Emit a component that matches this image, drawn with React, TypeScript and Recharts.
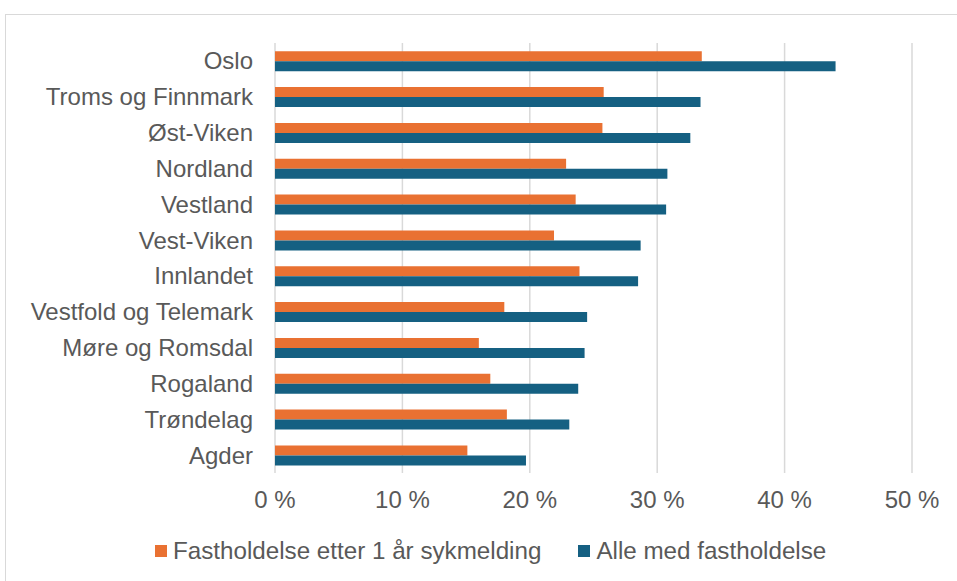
import React from 'react';
import { BarChart, Bar, XAxis, YAxis, CartesianGrid } from 'recharts';

// regions, top to bottom
const regions = [
  'Oslo',
  'Troms og Finnmark',
  'Øst-Viken',
  'Nordland',
  'Vestland',
  'Vest-Viken',
  'Innlandet',
  'Vestfold og Telemark',
  'Møre og Romsdal',
  'Rogaland',
  'Trøndelag',
  'Agder',
];

// percent values
const etterSykmelding = [33.5, 25.8, 25.7, 22.85, 23.6, 21.9, 23.9, 18.0, 16.0, 16.9, 18.2, 15.1];
const alleFastholdelse = [44.0, 33.4, 32.6, 30.8, 30.7, 28.7, 28.5, 24.5, 24.3, 23.8, 23.1, 19.7];

const xTicks = [0, 10, 20, 30, 40, 50];

const seriesNames = ['Fastholdelse etter 1 år sykmelding', 'Alle med fastholdelse'];
const seriesColors = ['#E97132', '#156082'];

const data = regions.map((region, i) => ({
  region,
  etter: etterSykmelding[i],
  alle: alleFastholdelse[i],
}));

const textColor = '#595959';
const font = '"Liberation Sans", Arial, sans-serif';

// legend sits under the chart, drawn as plain html
function ChartLegend() {
  return (
    <div
      style={{
        position: 'absolute',
        left: 155,
        top: 537,
        display: 'flex',
        gap: 37,
        fontFamily: font,
        fontSize: 24.2,
        lineHeight: '28px',
        color: textColor,
        whiteSpace: 'nowrap',
      }}
    >
      {seriesNames.map((name, i) => (
        <div key={name} style={{ display: 'flex', alignItems: 'center' }}>
          <span
            style={{
              display: 'inline-block',
              width: 12,
              height: 12,
              background: seriesColors[i],
              marginRight: 6,
            }}
          />
          <span>{name}</span>
        </div>
      ))}
    </div>
  );
}

export default function App() {
  return (
    <div
      style={{
        position: 'absolute',
        left: 0,
        top: 0,
        width: 957,
        height: 581,
        background: '#fff',
        overflow: 'hidden',
      }}
    >
      {/* chart frame */}
      <div
        style={{
          position: 'absolute',
          left: 5,
          top: 14,
          width: 960,
          height: 580,
          border: '1px solid #d9d9d9',
        }}
      />
      <div style={{ position: 'absolute', left: 0, top: 0 }}>
        <BarChart
          width={957}
          height={581}
          data={data}
          layout="vertical"
          margin={{ top: 43, right: 45, bottom: 78, left: 0 }}
          barCategoryGap="23%"
          barGap={0}
        >
          <CartesianGrid horizontal={false} stroke="#d9d9d9" strokeWidth={1.5} />
          <XAxis
            type="number"
            domain={[0, 50]}
            ticks={xTicks}
            tickFormatter={(v) => `${v} %`}
            axisLine={false}
            tickLine={false}
            tickSize={0}
            tickMargin={18}
            interval={0}
            height={30}
            tick={{ fill: textColor, fontSize: 24, fontFamily: font }}
          />
          <YAxis
            type="category"
            dataKey="region"
            width={275}
            axisLine={false}
            tickLine={false}
            tickSize={0}
            tickMargin={22}
            interval={0}
            tick={{ fill: textColor, fontSize: 24, fontFamily: font }}
          />
          <Bar dataKey="etter" name={seriesNames[0]} fill={seriesColors[0]} isAnimationActive={false} />
          <Bar dataKey="alle" name={seriesNames[1]} fill={seriesColors[1]} isAnimationActive={false} />
        </BarChart>
      </div>
      <ChartLegend />
    </div>
  );
}
